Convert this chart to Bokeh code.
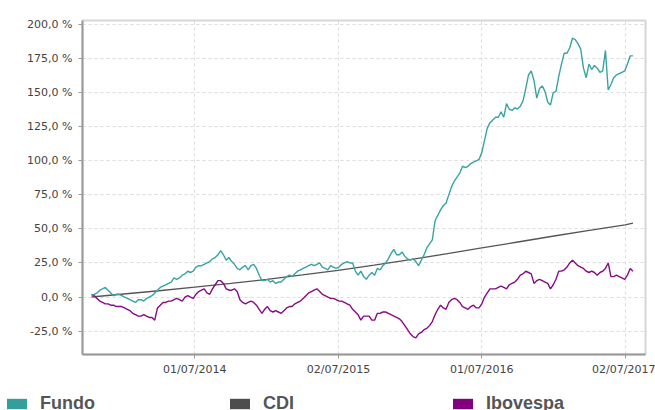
import pandas as pd
from bokeh.plotting import figure
from bokeh.layouts import column
from bokeh.models import (Range1d, FixedTicker, DatetimeTickFormatter,
                          CustomJSTickFormatter, Legend, LegendItem, ColumnDataSource)
from bokeh.embed import file_html
from bokeh.resources import INLINE

# ---------------- data ----------------
week_start = "2013-10-11"
week_end = "2017-07-21"

fundo = [1, 2, 3, 5, 6, 7, 5, 3, 1, 2,
         2, 1, 0, -1, -2, -3, -4, -2, -2, -3,
         -1, 0, 1, 3, 5, 7, 8, 9, 10, 11,
         14, 13, 14, 16, 17, 19, 18, 19, 22, 23,
         23, 24, 25, 26, 28, 29, 31, 34, 31, 27,
         29, 26, 24, 21, 20, 22, 23, 20, 23, 24,
         21, 16, 12, 12, 13, 11, 12, 10, 11, 11,
         13, 15, 16, 15, 17, 19, 20, 21, 22, 23,
         24, 23, 24, 25, 22, 21, 20, 23, 22, 21,
         22, 24, 25, 26, 25, 25, 19, 16, 19, 15,
         13, 16, 18, 16, 21, 20, 23, 25, 28, 32,
         35, 31, 31, 33, 30, 28, 27, 28, 26, 23,
         27, 31, 36, 39, 42, 56, 60, 64, 67, 69,
         75, 81, 85, 88, 91, 96, 95, 96, 98, 99,
         100, 101, 106, 115, 124, 128, 130, 132, 132, 136,
         132, 142, 138, 137, 139, 138, 140, 144, 153, 163,
         166, 159, 146, 153, 155, 151, 143, 141, 150, 151,
         162, 171, 179, 179, 183, 190, 189, 186, 182, 168,
         161, 171, 167, 170, 168, 165, 166, 181, 152, 156,
         161, 163, 164, 165, 166, 171, 177, 177]

ibovespa = [2, 1, -1, -3, -4, -5, -5, -6, -6, -7,
            -7, -7, -8, -9, -10, -12, -13, -14, -14, -13,
            -14, -15, -15, -17, -8, -6, -4, -4, -3, -3,
            -2, -1, -2, -3, 0, 1, 0, -1, 2, 4,
            5, 6, 3, 2, 6, 9, 12, 12, 10, 6,
            5, 5, 6, 4, -2, -4, -5, -4, -3, -4,
            -6, -9, -12, -9, -7, -10, -11, -10, -11, -12,
            -10, -8, -7, -7, -5, -4, -3, -1, 1, 3,
            4, 5, 6, 4, 2, 1, 0, -1, -1, -2,
            -3, -3, -4, -5, -6, -9, -11, -13, -17, -14,
            -14, -14, -17, -17, -12, -12, -11, -11, -12, -13,
            -14, -15, -16, -18, -21, -24, -27, -29, -30, -27,
            -26, -24, -23, -21, -18, -13, -9, -6, -8, -9,
            -4, -2, -1, -2, -4, -7, -8, -9, -7, -6,
            -8, -8, -5, 0, 3, 6, 6, 6, 7, 8,
            7, 6, 9, 10, 11, 13, 16, 17, 19, 18,
            17, 10, 12, 13, 12, 11, 10, 6, 9, 13,
            19, 19, 20, 22, 25, 27, 25, 23, 22, 21,
            19, 18, 19, 18, 16, 18, 19, 21, 25, 15,
            15, 16, 15, 14, 13, 16, 21, 19]

cdi_dates = ["2013-10-11", "2014-01-01", "2014-04-01", "2014-07-01", "2014-10-01",
             "2015-01-01", "2015-04-01", "2015-07-01", "2015-10-01", "2016-01-01",
             "2016-04-01", "2016-07-01", "2016-10-01", "2017-01-01", "2017-04-01",
             "2017-07-01", "2017-07-21"]
cdi = [0, 2.2, 4.6, 7.2, 10.0, 13.0, 16.2, 19.6, 23.4, 27.5,
       31.7, 36.0, 40.4, 44.8, 49.0, 53.0, 54.2]

x_tick_dates = ["2014-07-01", "2015-07-02", "2016-07-01", "2017-07-02"]
y_ticks = [-25, 0, 25, 50, 75, 100, 125, 150, 175, 200]
series_names = ["Fundo", "CDI", "Ibovespa"]

# ---------------- styling ----------------
TEAL_LINE = "#38A3A3"
TEAL_BOX = "#339E9E"
CDI_LINE = "#555555"
CDI_BOX = "#4D4D4D"
PURP_LINE = "#870A87"
PURP_BOX = "#800080"

weeks = pd.date_range(week_start, week_end, freq="7D")
src_f = ColumnDataSource(dict(x=weeks[:len(fundo)], y=fundo))
src_i = ColumnDataSource(dict(x=weeks[:len(ibovespa)], y=ibovespa))
src_c = ColumnDataSource(dict(x=pd.to_datetime(cdi_dates), y=cdi))

p = figure(width=655, height=388, x_axis_type="datetime",
           output_backend="svg", toolbar_location=None,
           x_range=Range1d(pd.Timestamp("2013-09-18"), pd.Timestamp("2017-08-22")),
           y_range=Range1d(-42.2, 203),
           min_border_left=82, min_border_right=10,
           min_border_top=20, min_border_bottom=34)
p.frame_align = False

p.background_fill_color = "white"
p.border_fill_color = "white"
p.outline_line_color = "#d6d6d6"
p.outline_line_width = 2

p.line("x", "y", source=src_c, color=CDI_LINE, line_width=1.3)
p.line("x", "y", source=src_i, color=PURP_LINE, line_width=1.4)
p.line("x", "y", source=src_f, color=TEAL_LINE, line_width=1.4)

# axes
p.xaxis.ticker = FixedTicker(ticks=[pd.Timestamp(d).value / 1e6 for d in x_tick_dates])
fmt = "%d/%m/%Y"
p.xaxis.formatter = DatetimeTickFormatter(microseconds=fmt, milliseconds=fmt, seconds=fmt,
                                          minsec=fmt, minutes=fmt, hourmin=fmt, hours=fmt,
                                          days=fmt, months=fmt, years=fmt)
p.yaxis.ticker = FixedTicker(ticks=y_ticks)
p.yaxis.formatter = CustomJSTickFormatter(code="return tick.toFixed(1).replace('.', ',') + ' %';")

for ax in (p.xaxis[0], p.yaxis[0]):
    ax.axis_line_color = "#9a9a9a"
    ax.axis_line_width = 2
    ax.major_tick_line_color = "#9a9a9a"
    ax.major_tick_out = 4
    ax.major_tick_in = 0
    ax.minor_tick_line_color = None
    ax.major_label_text_font = "DejaVu Sans"
    ax.major_label_text_font_size = "11px"
    ax.major_label_text_color = "#444444"
p.yaxis.major_label_standoff = 6
p.xaxis.major_label_standoff = 4

for g in (p.xgrid[0], p.ygrid[0]):
    g.grid_line_color = "#dcdcdc"
    g.grid_line_dash = "3 3"
    g.grid_line_width = 1

# ---------------- legend strip below the chart ----------------
lg = figure(width=655, height=22, output_backend="svg", toolbar_location=None,
            x_range=Range1d(0, 1), y_range=Range1d(0, 1),
            x_axis_type=None, y_axis_type=None,
            min_border=0, min_border_left=0, min_border_right=0,
            min_border_top=0, min_border_bottom=0)
lg.frame_align = False
lg.outline_line_color = None
lg.background_fill_color = "white"
lg.border_fill_color = "white"
lg.xgrid.visible = False
lg.ygrid.visible = False

nan = float("nan")
r_f = lg.quad(left=[nan], right=[nan], top=[nan], bottom=[nan], fill_color=TEAL_BOX, line_color=None)
r_c = lg.quad(left=[nan], right=[nan], top=[nan], bottom=[nan], fill_color=CDI_BOX, line_color=None)
r_i = lg.quad(left=[nan], right=[nan], top=[nan], bottom=[nan], fill_color=PURP_BOX, line_color=None)
legend = Legend(items=[LegendItem(label=series_names[0], renderers=[r_f]),
                       LegendItem(label=series_names[1], renderers=[r_c]),
                       LegendItem(label=series_names[2], renderers=[r_i])],
                orientation="horizontal", location=(4, -4),
                glyph_width=25, glyph_height=13, label_standoff=11,
                label_width=187, label_height=13, spacing=0, padding=0, margin=0,
                border_line_color=None, background_fill_alpha=0,
                label_text_font="Liberation Sans", label_text_font_style="bold",
                label_text_font_size="18px", label_text_color="#555555")
lg.add_layout(legend, "center")

layout = column(p, lg, spacing=0)
open("out.html", "w").write(file_html(layout, INLINE))
